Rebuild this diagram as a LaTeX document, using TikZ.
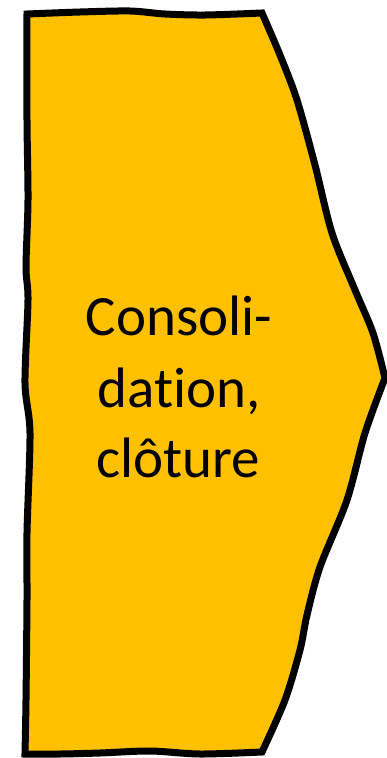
\documentclass[tikz,border=0pt]{standalone}
\usepackage{fontspec}
\setmainfont[RawFeature={-liga}]{Carlito}
\definecolor{amber}{HTML}{FFC000}
\tikzset{
  shapeline/.style={draw=black, fill=amber, line width=7pt, line join=miter},
  lbl/.style={anchor=base, inner sep=0pt, font=\fontsize{57}{71}\selectfont}
}
\begin{document}
\begin{tikzpicture}[x=1pt,y=-1pt]
\useasboundingbox (0,0) rectangle (387,758);
\filldraw[shapeline]
  plot[smooth,tension=0.5] coordinates {(27,14) (80,12) (130,11) (165,14) (205,15) (262,13)}
  -- plot[smooth,tension=0.5] coordinates {(262,13) (280,55) (297,100) (315,165) (332,233) (355,290) (373,333) (385,378)}
  -- plot[smooth,tension=0.5] coordinates {(385,378) (365,433) (347,500) (320,567) (307,615) (300,650) (285,700) (262,752)}
  -- plot[smooth,tension=0.5] coordinates {(262,752) (200,754) (150,751) (100,753) (60,754) (25,754)}
  -- plot[smooth,tension=0.5] coordinates {(25,754) (26,700) (27,600) (27,533) (30,433) (25,383) (28,300) (26,267) (28,200) (27,120) (27,14)}
  -- cycle;
\node[lbl] (l1) at (179,335) {Consoli-};
\node[lbl] (l2) at (179,407) {dation,};
\node[lbl] (l3) at (178,477) {clôture};
\end{tikzpicture}
\end{document}
